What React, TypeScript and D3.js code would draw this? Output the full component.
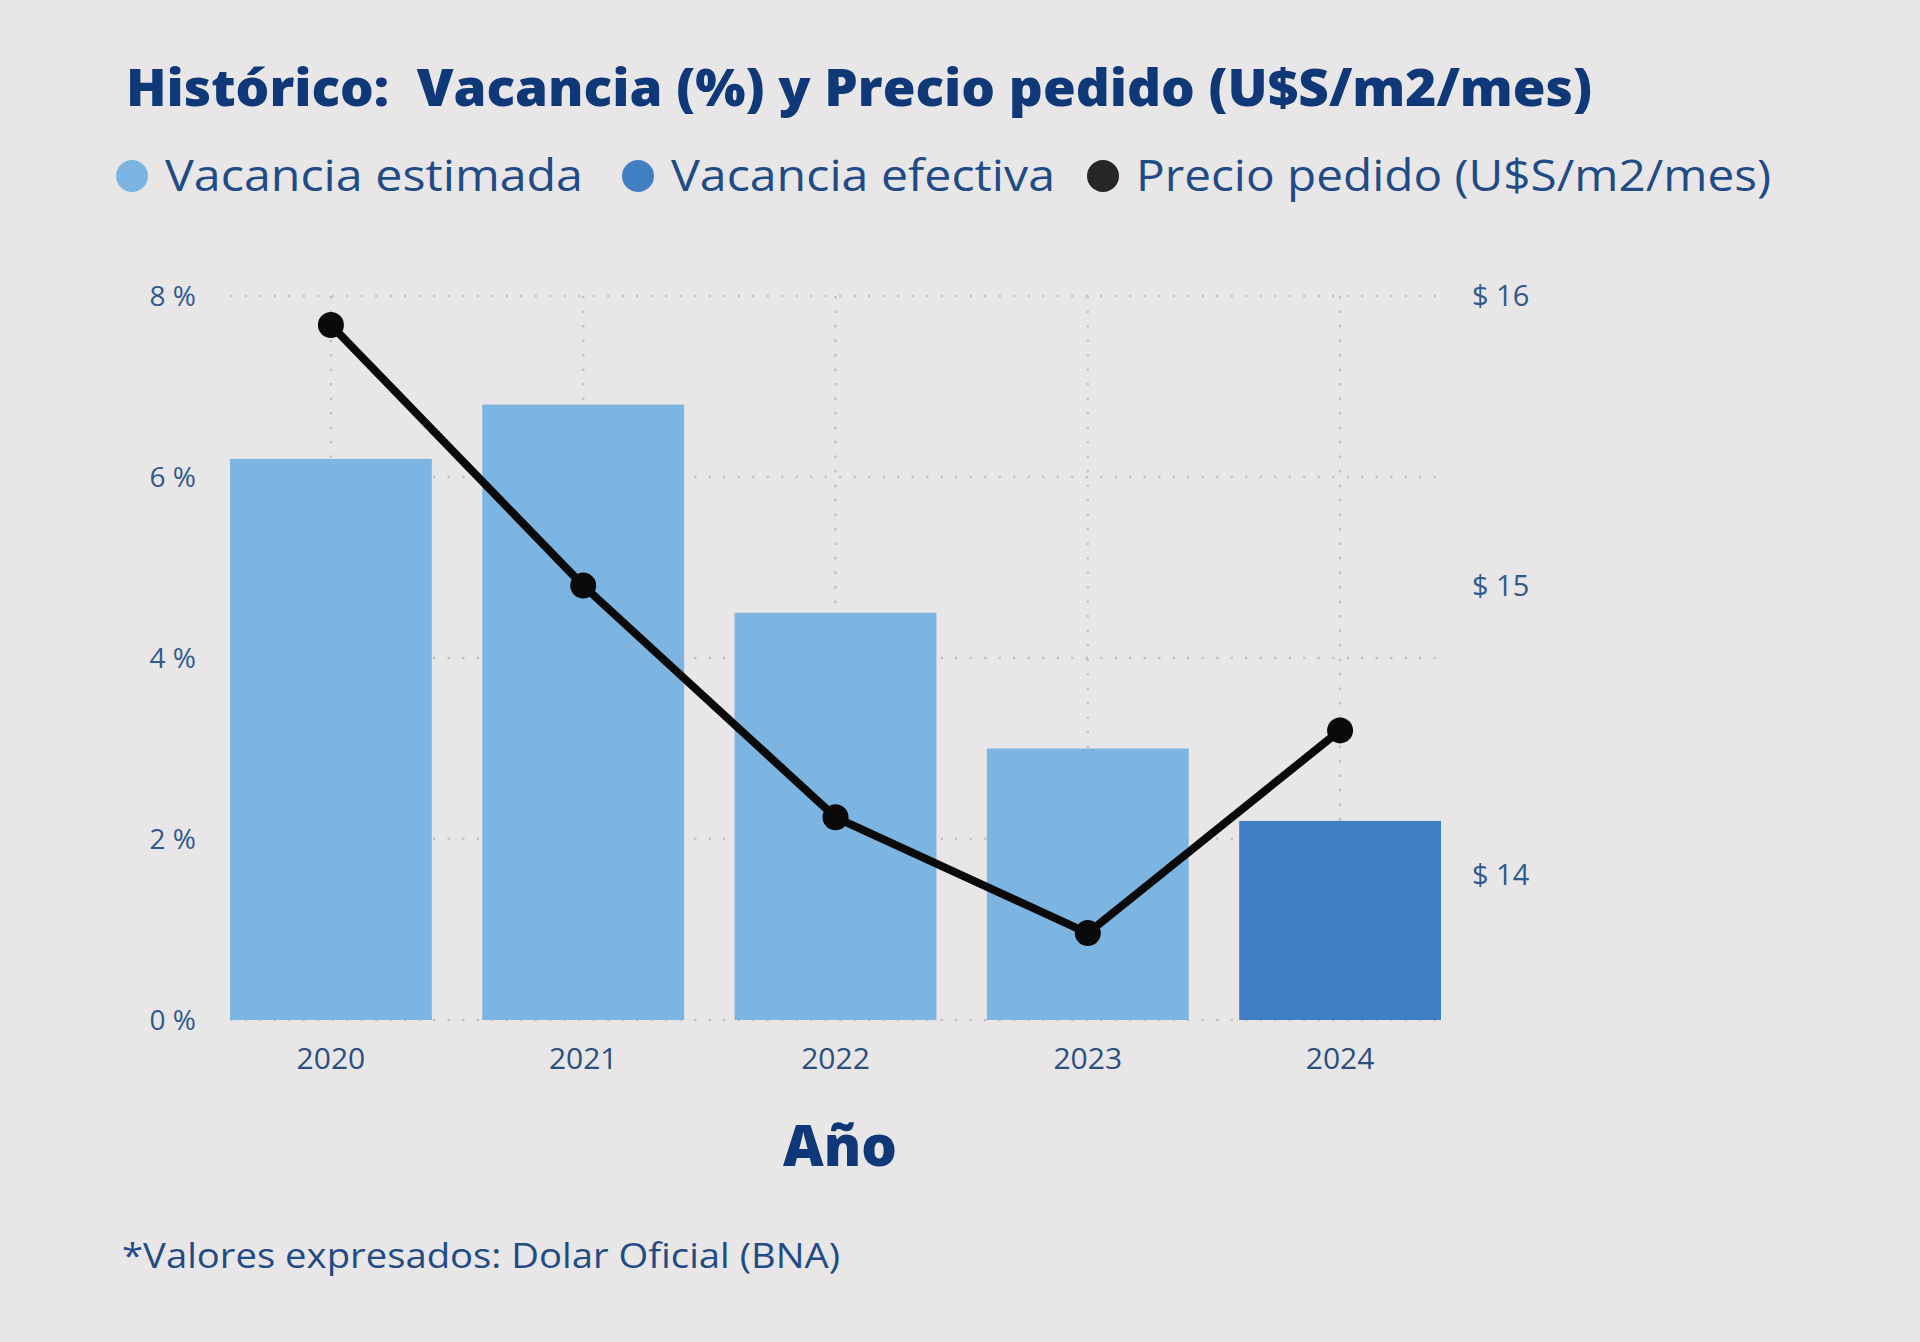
import React, { useRef, useEffect } from "react";
import * as d3 from "d3";

const years = ["2020", "2021", "2022", "2023", "2024"];
const vacancia = [6.2, 6.8, 4.5, 3.0, 2.2];
const vacanciaTipo = ["estimada", "estimada", "estimada", "estimada", "efectiva"];
const precio = [15.9, 15.0, 14.2, 13.8, 14.5];
const leftTicks = [0, 2, 4, 6, 8];
const rightTicks = [14, 15, 16];

const legendItems = [
  { label: "Vacancia estimada", color: "#7cb4e2", x: 132, len: 418 },
  { label: "Vacancia efectiva", color: "#4080c2", x: 638, len: 384 },
  { label: "Precio pedido (U$S/m2/mes)", color: "#262626", x: 1103, len: 635 },
];

const W = 1920;
const H = 1342;
const FONT = "'Open Sans', 'Noto Sans', sans-serif";

const App = () => {
  const svgRef = useRef<SVGSVGElement | null>(null);

  useEffect(() => {
    const svg = d3.select(svgRef.current);
    svg.selectAll("*").remove();
    const margin = { top: 296, right: W - 1441, bottom: H - 1020, left: 230 };

    svg.append("rect").attr("width", W).attr("height", H).attr("fill", "#e8e6e7");

    const x = d3
      .scaleBand()
      .domain(years)
      .range([margin.left, W - margin.right])
      .paddingInner(0.2)
      .paddingOuter(0);
    const y = d3
      .scaleLinear()
      .domain([0, 8])
      .range([H - margin.bottom, margin.top]);
    const y2 = d3
      .scaleLinear()
      .domain([13.5, 16])
      .range([H - margin.bottom, margin.top]);

    // grid
    const grid = svg.append("g").attr("stroke", "#c4c2c4").attr("stroke-width", 2.5).attr("stroke-dasharray", "2.5 12");
    leftTicks.forEach((t) => {
      grid.append("line")
        .attr("x1", margin.left).attr("x2", W - margin.right)
        .attr("y1", y(t)).attr("y2", y(t));
    });
    years.forEach((yr) => {
      const cx = (x(yr) as number) + x.bandwidth() / 2;
      grid.append("line")
        .attr("x1", cx).attr("x2", cx)
        .attr("y1", margin.top).attr("y2", H - margin.bottom);
    });

    // bars
    svg.append("g")
      .selectAll("rect")
      .data(years)
      .enter()
      .append("rect")
      .attr("x", (d) => x(d) as number)
      .attr("width", x.bandwidth())
      .attr("y", (d, i) => y(vacancia[i]))
      .attr("height", (d, i) => y(0) - y(vacancia[i]))
      .attr("fill", (d, i) => (vacanciaTipo[i] === "efectiva" ? "#4080c2" : "#7cb4e2"));

    // price line
    const line = d3
      .line<number>()
      .x((d, i) => (x(years[i]) as number) + x.bandwidth() / 2)
      .y((d) => y2(d));
    svg.append("path")
      .datum(precio)
      .attr("fill", "none")
      .attr("stroke", "#0a0a0a")
      .attr("stroke-width", 8)
      .attr("stroke-linejoin", "round")
      .attr("d", line);
    svg.append("g")
      .selectAll("circle")
      .data(precio)
      .enter()
      .append("circle")
      .attr("cx", (d, i) => (x(years[i]) as number) + x.bandwidth() / 2)
      .attr("cy", (d) => y2(d))
      .attr("r", 13)
      .attr("fill", "#0a0a0a");

    // left axis labels
    svg.append("g")
      .selectAll("text")
      .data(leftTicks)
      .enter()
      .append("text")
      .attr("x", 196)
      .attr("y", (d) => y(d))
      .attr("dy", "0.35em")
      .attr("text-anchor", "end")
      .attr("font-family", FONT)
      .attr("font-size", 28)
      .attr("fill", "#2e5a8e")
      .text((d) => `${d} %`);

    // right axis labels
    svg.append("g")
      .selectAll("text")
      .data(rightTicks)
      .enter()
      .append("text")
      .attr("x", 1472)
      .attr("y", (d) => y2(d))
      .attr("dy", "0.35em")
      .attr("font-family", FONT)
      .attr("font-size", 29)
      .attr("fill", "#2e5a8e")
      .text((d) => `$ ${d}`);

    // x labels
    svg.append("g")
      .selectAll("text")
      .data(years)
      .enter()
      .append("text")
      .attr("x", (d) => (x(d) as number) + x.bandwidth() / 2)
      .attr("y", 1069)
      .attr("text-anchor", "middle")
      .attr("font-family", FONT)
      .attr("font-weight", 500)
      .attr("font-size", 30)
      .attr("fill", "#2a4f80")
      .text((d) => d);

    // title
    svg.append("text")
      .attr("x", 126)
      .attr("y", 106)
      .attr("font-family", FONT)
      .attr("font-weight", 800)
      .attr("font-size", 52)
      .attr("fill", "#0e3877")
      .attr("textLength", 1466)
      .attr("lengthAdjust", "spacingAndGlyphs")
      .style("white-space", "pre")
      .text("Histórico:  Vacancia (%) y Precio pedido (U$S/m2/mes)");

    // legend
    legendItems.forEach((it) => {
      svg.append("circle").attr("cx", it.x).attr("cy", 176).attr("r", 16).attr("fill", it.color);
      svg.append("text")
        .attr("x", it.x + 33)
        .attr("y", 191)
        .attr("font-family", FONT)
        .attr("font-size", 44)
        .attr("fill", "#1f4b86")
        .attr("textLength", it.len)
        .attr("lengthAdjust", "spacingAndGlyphs")
        .text(it.label);
    });

    // x axis title
    svg.append("text")
      .attr("x", 840)
      .attr("y", 1166)
      .attr("text-anchor", "middle")
      .attr("font-family", FONT)
      .attr("font-weight", 800)
      .attr("font-size", 56)
      .attr("fill", "#0e3877")
      .text("Año");

    // footnote
    svg.append("text")
      .attr("x", 122)
      .attr("y", 1268)
      .attr("font-family", FONT)
      .attr("font-size", 34)
      .attr("fill", "#1f4b86")
      .attr("textLength", 718)
      .attr("lengthAdjust", "spacingAndGlyphs")
      .text("*Valores expresados: Dolar Oficial (BNA)");
  }, []);

  return (
    <svg
      ref={svgRef}
      width={W}
      height={H}
      style={{ position: "absolute", left: 0, top: 0, display: "block" }}
    ></svg>
  );
};

export default App;
